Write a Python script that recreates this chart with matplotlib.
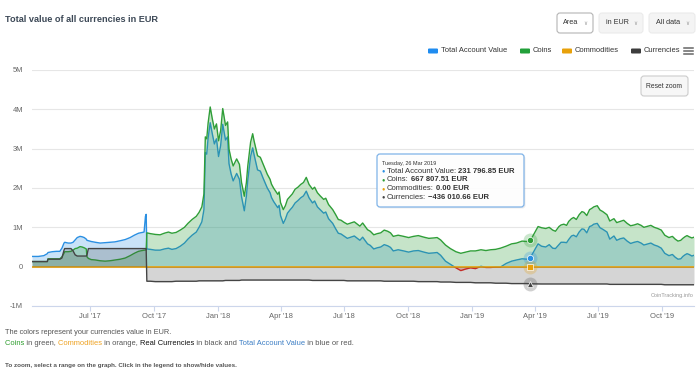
import numpy as np
import pandas as pd
import matplotlib
matplotlib.use('Agg')
import matplotlib.pyplot as plt
import matplotlib.dates as mdates
import matplotlib.transforms as mtransforms
from matplotlib.patches import FancyBboxPatch, Rectangle
from matplotlib.lines import Line2D

plt.rcParams['font.family'] = ['Liberation Sans', 'DejaVu Sans']

W, H = 700, 387

# values in million EUR, days counted from the first data point
start = '2017-04-09'
days = [0, 9, 17, 22, 23, 29, 35, 40, 43, 46, 47, 52, 56, 59, 62, 65, 69, 72, 75, 78,
        79, 81, 85, 91, 98, 105, 112, 119, 127, 134, 141, 147, 153, 158, 161, 163, 164, 165,
        170, 177, 184, 190, 196, 201, 207, 213, 219, 224,
        230, 236, 240, 244, 247, 249, 251, 253, 256, 259,
        262, 265, 268, 271, 274, 278, 281, 283, 286, 289,
        294, 298, 301, 305, 308, 310, 314, 317, 319, 324,
        328, 332,
        338, 342, 344, 347, 353, 355, 357, 361, 364, 367,
        371, 374, 378, 382, 386, 390, 394, 398, 403, 406,
        410, 414, 419, 422, 426, 432, 436, 440, 444, 448,
        453, 458, 463, 468, 471, 475, 482, 486, 491, 496,
        501, 506, 511, 515, 519, 526, 534, 541, 548, 555,
        563, 570, 577, 582, 587, 594, 601, 609, 616, 623,
        630, 637, 645, 652, 659, 666, 673, 681, 689, 696,
        704, 711, 716, 727, 732, 738, 743, 748, 752, 757,
        760, 764, 768, 771, 775, 778, 782, 786, 790, 793,
        797, 801, 804, 807, 812, 816, 820, 826, 830, 836,
        840, 845, 850, 855, 860, 865, 870, 875, 879, 883,
        889, 894, 899, 904, 909, 915, 920, 924, 928, 932,
        935, 938, 941, 944, 948, 951]

coins = [.13, .13, .13, .13, .20, .20, .20, .20, .25, .34, .38, .38, .39, .42, .46, .47, .51, .50, .48, .45,
         .25, .21, .18, .17, .15, .14, .15, .17, .19, .22, .28, .34, .39, .41, .42, .42, .43, .86,
         .84, .82, .81, .85, .88, .85, .87, .93, 1.00, 1.10,
         1.20, 1.28, 1.38, 1.52, 1.85, 3.30, 3.25, 3.65, 4.06, 3.76,
         3.50, 3.63, 3.20, 3.46, 4.02, 3.59, 3.68, 2.99, 2.74, 2.56,
         2.74, 2.60, 2.14, 1.79, 2.14, 2.56, 3.16, 3.38, 3.20, 2.82,
         2.78, 2.61,
         2.35, 2.22, 2.10, 2.00, 1.84, 1.90, 1.63, 1.45, 1.55, 1.71,
         1.79, 1.85, 1.97, 2.02, 2.09, 2.14, 2.27, 2.09, 1.97, 2.02,
         1.88, 1.80, 1.71, 1.74, 1.58, 1.45, 1.33, 1.20, 1.18, 1.13,
         1.08, 1.11, 1.14, 1.07, 1.03, 1.11, 0.94, 0.90, 0.81, 0.84,
         0.86, 0.93, 0.90, 0.86, 0.77, 0.80, 0.77, 0.74, 0.77, 0.79,
         0.75, 0.72, 0.73, 0.74, 0.68, 0.55, 0.46, 0.38, 0.34, 0.37,
         0.40, 0.40, 0.43, 0.41, 0.43, 0.44, 0.47, 0.52, 0.58, 0.60,
         0.65, 0.64, 0.668, 1.02, 0.99, 0.97, 1.00, 0.93, 0.90, 1.02,
         1.06, 1.08, 1.05, 1.15, 1.22, 1.25, 1.20, 1.32, 1.40, 1.38,
         1.30, 1.45, 1.48, 1.52, 1.55, 1.44, 1.40, 1.32, 1.16, 1.22,
         1.12, 1.15, 1.18, 1.10, 1.04, 1.06, 1.09, 1.05, 1.00, 1.02,
         1.05, 1.00, 0.97, 0.93, 0.80, 0.74, 0.77, 0.70, 0.65, 0.67,
         0.72, 0.76, 0.79, 0.76, 0.73, 0.75]

currencies = [.13, .13, .13, .13, .19, .19, .19, .19, .22, .42, .46, .46, .46, .40, .30, .27, .27, .27, .27, .27,
              .30, .46, .46, .46, .46, .46, .46, .46, .46, .46, .46, .46, .46, .46, .46, .46, .46, -.37,
              -.37, -.38, -.38, -.38, -.38, -.38, -.37, -.37, -.37, -.37,
              -.37, -.37, -.36, -.36, -.36, -.36, -.36, -.36, -.36, -.36,
              -.36, -.36, -.36, -.36, -.36, -.35, -.35, -.35, -.35, -.35,
              -.35, -.35, -.34, -.34, -.34, -.34, -.34, -.34, -.34, -.34,
              -.34, -.34,
              -.34, -.34, -.34, -.34, -.34, -.34, -.34, -.34, -.34, -.34,
              -.34, -.34, -.34, -.34, -.34, -.34, -.34, -.34, -.35, -.35,
              -.35, -.35, -.35, -.35, -.35, -.35, -.35, -.35, -.35, -.35,
              -.36, -.36, -.36, -.36, -.36, -.36, -.36, -.36, -.36, -.36,
              -.36, -.37, -.37, -.37, -.37, -.37, -.37, -.37, -.37, -.38,
              -.38, -.38, -.38, -.38, -.39, -.39, -.39, -.40, -.40, -.40,
              -.40, -.41, -.41, -.41, -.41, -.42, -.42, -.42, -.43, -.43,
              -.43, -.43, -.436, -.44, -.44, -.44, -.44, -.44, -.44, -.44,
              -.44, -.44, -.44, -.44, -.44, -.44, -.44, -.44, -.44, -.44,
              -.44, -.44, -.44, -.44, -.44, -.44, -.44, -.44, -.45, -.45,
              -.45, -.45, -.45, -.45, -.45, -.45, -.45, -.45, -.45, -.45,
              -.45, -.45, -.45, -.45, -.46, -.46, -.46, -.46, -.46, -.46,
              -.46, -.46, -.46, -.46, -.46, -.46]

total = [.26, .26, .28, .33, .36, .38, .39, .39, .47, .60, .62, .60, .60, .62, .68, .74, .77, .76, .74, .70,
         .67, .66, .64, .62, .60, .61, .62, .63, .66, .69, .74, .80, .85, .87, .88, 1.28, 1.33, .45,
         .44, .42, .42, .45, .47, .44, .46, .52, .60, .70,
         .80, .88, 1.00, 1.14, 1.45, 2.90, 2.86, 3.27, 3.66, 3.38,
         3.12, 3.25, 2.80, 3.08, 3.62, 3.22, 3.30, 2.62, 2.36, 2.18,
         2.37, 2.22, 1.78, 1.42, 1.80, 2.20, 2.80, 3.02, 2.85, 2.46,
         2.43, 2.25,
         2.00, 1.88, 1.76, 1.66, 1.50, 1.56, 1.30, 1.10, 1.21, 1.36,
         1.45, 1.51, 1.62, 1.68, 1.75, 1.80, 1.92, 1.75, 1.62, 1.67,
         1.52, 1.45, 1.36, 1.39, 1.22, 1.10, .97, .85, .83, .78,
         .72, .75, .78, .71, .67, .75, .58, .54, .45, .48,
         .50, .56, .53, .49, .40, .43, .40, .37, .40, .41,
         .37, .34, .35, .36, .29, .14, .06, -.03, -.10, -.06,
         -.03, -.05, .01, -.02, -.02, -.01, -.01, .08, .14, .17,
         .20, .19, .232, .58, .52, .50, .56, .47, .46, .56,
         .62, .62, .61, .69, .78, .80, .76, .88, .96, .95,
         .86, 1.02, 1.04, 1.08, 1.10, .99, .95, .88, .70, .78,
         .67, .71, .73, .65, .59, .62, .64, .60, .55, .57,
         .60, .55, .52, .47, .34, .28, .31, .24, .19, .20,
         .26, .30, .33, .31, .27, .29]

commodity_days = [0, 951]
commodities = [0.0, 0.0]

hover_day = 716
hover_date = '2019-03-26'
hover_total = 231796.85
hover_coins = 667807.51
hover_comm = 0.00
hover_curr = -436010.66

tick_dates = ['2017-07-01', '2017-10-01', '2018-01-01', '2018-04-01', '2018-07-01',
              '2018-10-01', '2019-01-01', '2019-04-01', '2019-07-01', '2019-10-01']
tick_labels = ["Jul '17", "Oct '17", "Jan '18", "Apr '18", "Jul '18",
               "Oct '18", "Jan '19", "Apr '19", "Jul '19", "Oct '19"]
y_ticks = [-1, 0, 1, 2, 3, 4, 5]
y_labels = ['-1M', '0', '1M', '2M', '3M', '4M', '5M']

BLUE = '#2a8fe2'
GREEN = '#2f9e38'
ORANGE = '#e9a10b'
DARK = '#444444'
RED = '#e8251f'

t0 = pd.Timestamp(start)
x = mdates.date2num(t0 + pd.to_timedelta(days, unit='D'))
xc = mdates.date2num(t0 + pd.to_timedelta(commodity_days, unit='D'))
coins = np.array(coins)
currencies = np.array(currencies)
total = np.array(total)

fig = plt.figure(figsize=(W / 100, H / 100), dpi=100)
ax = fig.add_axes([32 / W, 1 - 306 / H, 662 / W, 236 / H])

mixed = mtransforms.blended_transform_factory(ax.transAxes, ax.transData)
pos_clip = Rectangle((0, 0), 1, 100, transform=mixed)
neg_clip = Rectangle((0, -100), 1, 100, transform=mixed)

# total account value: blue above zero, red below
f = ax.fill_between(x, total, 0, color=BLUE, alpha=0.25, lw=0, zorder=1)
f.set_clip_path(pos_clip)
f = ax.fill_between(x, total, 0, color=RED, alpha=0.25, lw=0, zorder=1)
f.set_clip_path(neg_clip)
l, = ax.plot(x, total, color=BLUE, lw=1, zorder=2)
l.set_clip_path(pos_clip)
l, = ax.plot(x, total, color=RED, lw=1, zorder=2)
l.set_clip_path(neg_clip)

ax.fill_between(x, coins, 0, color=GREEN, alpha=0.27, lw=0, zorder=3)
ax.plot(x, coins, color=GREEN, lw=1, zorder=4)
ax.plot(xc, commodities, color=ORANGE, lw=1.2, zorder=5)
ax.fill_between(x, currencies, 0, color=DARK, alpha=0.22, lw=0, zorder=6)
ax.plot(x, currencies, color=DARK, lw=1, zorder=7)

# hover markers
hx = mdates.date2num(t0 + pd.Timedelta(days=hover_day))
for v, c, m in [(hover_coins, GREEN, 'o'), (hover_total, BLUE, 'o'),
                (hover_comm, ORANGE, 's'), (hover_curr, DARK, '^')]:
    ax.plot([hx], [v / 1e6], marker='o', ms=10, color=c, alpha=0.25, mec='none', zorder=8)
    ax.plot([hx], [v / 1e6], marker=m, ms=4.5, color=c, mec='white', mew=0.5, zorder=9)

ax.set_xlim(x[0], x[-1])
ax.set_ylim(-1, 5)
ax.set_yticks(y_ticks)
ax.set_yticklabels(y_labels)
ax.set_xticks(mdates.date2num(pd.to_datetime(tick_dates)))
ax.set_xticklabels(tick_labels)
ax.grid(axis='y', color='#e6e6e6', lw=0.8)
ax.set_axisbelow(True)
for s in ['top', 'right', 'left']:
    ax.spines[s].set_visible(False)
ax.spines['bottom'].set_color('#ccd6eb')
ax.spines['bottom'].set_linewidth(0.8)
ax.tick_params(axis='y', length=0, pad=6.5, labelsize=5.4, labelcolor='#666666')
ax.tick_params(axis='x', length=3.5, width=0.8, color='#ccd6eb', pad=1.5,
               labelsize=5.5, labelcolor='#666666')

# ---- texts and widgets in pixel coordinates ----
renderer = fig.canvas.get_renderer()
ident = mtransforms.IdentityTransform()


def txt(px, py, s, size, color, weight='normal', ha='left', va='center'):
    return fig.text(px / W, 1 - py / H, s, fontsize=size, color=color,
                    fontweight=weight, ha=ha, va=va)


def width(s, size, weight='normal'):
    if not s:
        return 0.0
    a = fig.text(0, 0, '|' + s + '|', fontsize=size, fontweight=weight)
    b = fig.text(0, 0, '||', fontsize=size, fontweight=weight)
    w = a.get_window_extent(renderer).width - b.get_window_extent(renderer).width
    a.remove()
    b.remove()
    return w


def rich(px, py, parts, size):
    # label and value with different weights
    for s, col, wt in parts:
        lead = s[:len(s) - len(s.lstrip())]
        txt(round(px + width(lead, size, wt)), py, s.strip(), size, col, wt)
        px += width(s, size, wt)


def coloured_line(px, py, parts, size):
    # draw the whole line once per colour, each copy clipped to its own words
    full = ''.join(s for s, c in parts)
    edges = [0]
    pre = ''
    for s, c in parts[:-1]:
        pre += s
        nxt = parts[len(edges)][0]
        lead = nxt[:len(nxt) - len(nxt.lstrip())]
        a = px + width(pre.rstrip(), size)
        b = px + width(pre + lead, size)
        edges.append((a + b) / 2)
    edges.append(W)
    for i, (s, c) in enumerate(parts):
        t = txt(px, py, full, size, c)
        t.set_clip_box(mtransforms.Bbox([[edges[i], 0], [edges[i + 1], H]]))


def box(x0, y0, x1, y1, fc, ec, r=3, lw=0.8):
    p = FancyBboxPatch((x0, H - y1), x1 - x0, y1 - y0,
                       boxstyle='round,pad=0,rounding_size=%g' % r,
                       fc=fc, ec=ec, lw=lw, transform=ident)
    fig.add_artist(p)


txt(5, 19.5, 'Total value of all currencies in EUR', 6.6, '#3c4856', 'bold')

# dropdown buttons
for (x0, x1, label, fc, ec) in [(557, 593, 'Area', 'white', '#b5b5b5'),
                                (599, 643, 'in EUR', '#f4f4f4', '#ebebeb'),
                                (649, 695, 'All data', '#f4f4f4', '#ebebeb')]:
    box(x0, 13, x1, 33, fc, ec)
    txt((x0 + x1) / 2 - 4, 23, label, 5.2, '#333333', ha='center')
    txt(x1 - 8, 23.5, '\u2228', 4.0, '#999999', ha='center')

# legend
for (x0, label, c) in [(428, 'Total Account Value', '#1f8cf0'), (520, 'Coins', '#22a03a'),
                       (562, 'Commodities', '#e8a10a'), (631, 'Currencies', '#3d3d3d')]:
    fig.add_artist(FancyBboxPatch((x0, H - 53.5), 10, 5, boxstyle='round,pad=0,rounding_size=1',
                                  fc=c, ec='none', transform=ident))
    txt(x0 + 13, 51, label, 5.4, '#333333')
for yy in [48, 51, 54]:
    fig.add_artist(Line2D([684, 693], [H - yy, H - yy], color='#666666', lw=1.1, transform=ident))

# reset zoom button
box(641, 76, 688, 96, '#f7f7f7', '#cccccc')
txt(664.5, 86, 'Reset zoom', 4.9, '#333333', ha='center')

# tooltip
box(378.5, 155.5, 525.5, 208.5, '#00000012', 'none')
box(377, 154, 524, 207, (1, 1, 1, 0.92), '#7fb3e8', lw=0.9)
txt(382, 163.3, pd.Timestamp(hover_date).strftime('%A, %d %b %Y'), 4.0, '#333333')


def eur(v):
    s = '{:,.2f}'.format(abs(v)).replace(',', ' ')
    return ('\u2212' if v < 0 else '') + s + ' EUR'


rows = [('Total Account Value: ', hover_total, BLUE), ('Coins: ', hover_coins, GREEN),
        ('Commodities: ', hover_comm, ORANGE), ('Currencies: ', hover_curr, DARK)]
for i, (lab, v, c) in enumerate(rows):
    yy = 171.3 + i * 8.6
    txt(381.5, yy, '\u25cf', 4.0, c)
    rich(387, yy, [(lab, '#333333', 'normal'), (eur(v), '#333333', 'bold')], 5.5)

txt(694, 296, 'CoinTracking.info', 4.0, '#999999', ha='right')

# notes under the chart
gray = '#555555'
txt(5, 332.5, 'The colors represent your currencies value in EUR.', 5.3, gray)
coloured_line(5, 343.5, [('Coins', '#2e9e2e'), (' in green, ', gray),
                         ('Commodities', '#eea222'), (' in orange, ', gray),
                         ('Real Currencies', '#111111'), (' in black and ', gray),
                         ('Total Account Value', '#3b7dc4'), (' in blue or red.', gray)], 5.45)
txt(5, 365.5, 'To zoom, select a range on the graph. Click in the legend to show/hide values.',
    4.5, gray, 'bold')

fig.savefig('out.png', dpi=100)
